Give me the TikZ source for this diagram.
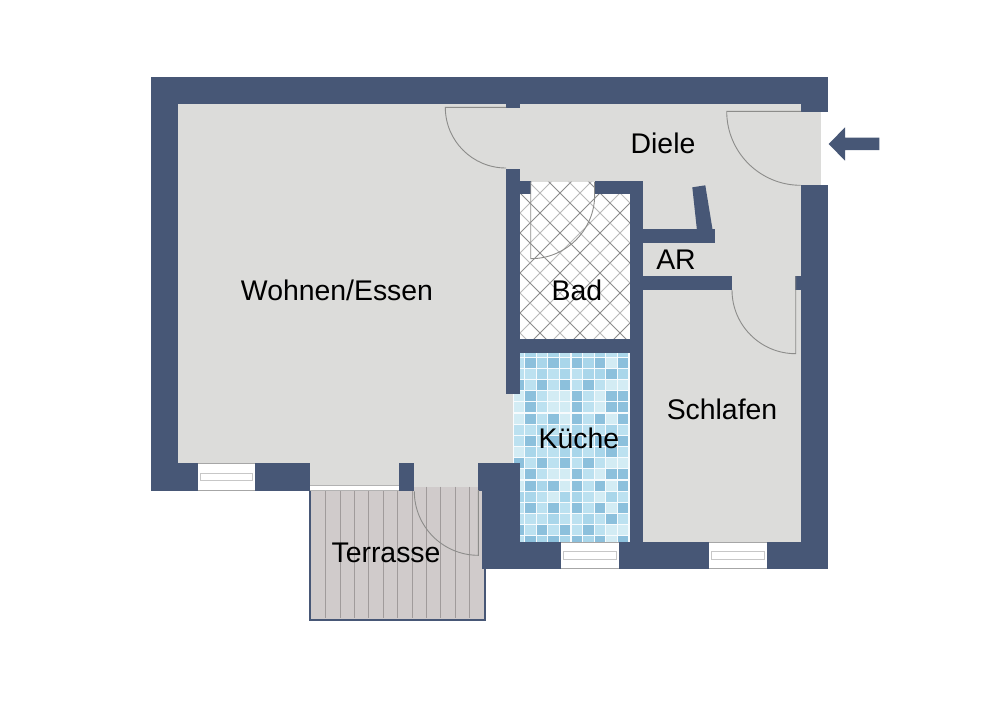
\documentclass[tikz,border=0pt]{standalone}
\usepackage{fontspec}
\setmainfont{Liberation Sans}
\definecolor{wallblue}{HTML}{475776}
\definecolor{floorgrey}{HTML}{DCDCDA}
\definecolor{doorgrey}{HTML}{8C8C8A}
\definecolor{deckgrey}{HTML}{D0CBCB}
\definecolor{plankgrey}{HTML}{A09B9B}
\definecolor{tilea}{HTML}{8CC0DC}
\definecolor{tileb}{HTML}{A9D6EA}
\definecolor{tilec}{HTML}{BCE1F0}
\definecolor{tiled}{HTML}{D3ECF4}
\tikzset{
    wall/.style={fill=wallblue},
    floorarea/.style={fill=floorgrey},
    doorleaf/.style={draw=doorgrey, line width=0.9pt},
    roomlabel/.style={inner sep=0pt, font=\fontsize{28.4}{30}\selectfont}
}
\begin{document}
\begin{tikzpicture}[x=1pt, y=-1pt]
    \useasboundingbox (0,0) rectangle (1000,707);
    % floors
    \fill [floorarea] (178,104) rectangle (801,185);
    \fill [floorarea] (801,111.7) rectangle (820.7,184.7);
    \fill [floorarea] (178,104) rectangle (513,463.5);
    \fill [floorarea] (643,181) rectangle (801,542);
    \fill [floorarea] (309.7,463) rectangle (478,487);
    % terrace
    \fill [deckgrey] (309.5,486.7) rectangle (484.5,619.5);
    \foreach \px in {325.7,340,354.3,368.7,383.3,397.7,412,426.3,440.7,455,469.3}
        \draw [plankgrey, line width=0.9pt] (\px,486.7) -- (\px,618);
    \draw [wallblue, line width=2pt] (309.5,490) -- (309.5,619.5) -- (484.5,619.5) -- (484.5,569);
    \fill [white] (309.7,485.7) rectangle (399,490.7);
    \draw [black!30, line width=0.6pt] (309.7,485.7) -- (399,485.7);
    \draw [black!30, line width=0.6pt] (309.7,490.7) -- (399,490.7);
    % bath
    \fill [white] (520,194) rectangle (630,339);
    \fill [white] (530.7,181.5) rectangle (594.7,194);
    \begin{scope}
        \clip (520,194) -- (530.7,194) -- (530.7,181.5) -- (594.7,181.5) -- (594.7,194) -- (630,194) -- (630,339) -- (520,339) -- cycle;
        \foreach \hc in {713,753,...,993} {
            \draw [black!45, line width=0.8pt] (500,\hc-500) -- (650,\hc-650);
            \draw [black!28, line width=0.8pt] (500,\hc+20-500) -- (650,\hc+20-650);
        }
        \foreach \hd in {167,207,...,487} {
            \draw [black!45, line width=0.8pt] (500,500-\hd) -- (650,650-\hd);
            \draw [black!28, line width=0.8pt] (500,500-\hd-20) -- (650,650-\hd-20);
        }
    \end{scope}
    % kitchen
    \fill [white!88!tilec] (513,353) rectangle (629.5,542);
    \begin{scope}
        \clip (513,353) rectangle (629.5,542);
        \foreach \tiles [count=\r from 0] in {
            {c,b,c,b,c,b,c,b,c,b},
            {c,a,b,a,b,a,b,a,d,a},
            {c,c,b,c,b,c,b,b,a,b},
            {a,c,a,c,a,c,a,c,d,d},
            {d,a,c,d,d,a,c,d,a,a},
            {d,a,c,d,d,a,c,d,a,a},
            {d,a,c,a,d,a,c,a,d,a},
            {c,c,b,c,c,b,c,c,b,c},
            {c,a,c,a,c,a,c,a,b,a},
            {d,b,c,c,b,b,c,b,a,c},
            {a,c,a,c,a,c,a,c,d,d},
            {d,a,c,d,d,a,c,d,a,a},
            {d,a,b,a,d,a,c,a,d,a},
            {b,b,c,d,b,b,c,d,b,c},
            {c,a,c,a,c,a,c,a,d,a},
            {c,c,c,b,c,c,b,c,a,c},
            {a,c,a,c,a,c,a,c,d,d},
            {c,a,b,a,b,a,b,a,d,a}}
            \foreach \t [count=\c from 0] in \tiles
                \fill [tile\t] (513.5+\c*11.6,346.7+\r*11.15) rectangle (523.9+\c*11.6,356.7+\r*11.15);
    \end{scope}
    % walls
    \fill [wall] (151,77) rectangle (828,104);
    \fill [wall] (800.7,104) rectangle (828,111.7);
    \fill [wall] (151,77) rectangle (178,490.7);
    \fill [wall] (151,463.3) rectangle (309.7,490.7);
    \fill [wall] (399,463.3) rectangle (414.3,490.7);
    \fill [wall] (478,463.3) rectangle (520,490.7);
    \fill [wall] (482.3,490.7) rectangle (520,568.7);
    \fill [wall] (482.3,542) rectangle (828,568.7);
    \fill [wall] (506,104) rectangle (520,108);
    \fill [wall] (506,168.7) rectangle (520,394);
    \fill [wall] (520,181) rectangle (530.7,194);
    \fill [wall] (594.7,181) rectangle (643.3,194);
    \fill [wall] (629.5,181) rectangle (643.3,542);
    \fill [wall] (520,339) rectangle (630,352.7);
    \fill [wall] (643,229) rectangle (714.7,242.7);
    \fill [wall] (692.3,187.3) -- (705.3,185.3) -- (714.7,242.7) -- (698.3,242.7) -- cycle;
    \fill [wall] (643,275.7) rectangle (732,289.7);
    \fill [wall] (795,275.7) rectangle (801,289.7);
    \fill [wall] (801,184.7) rectangle (828,568.7);
    % windows
    \foreach \wx/\wy in {197.7/463.3, 561/542, 709.3/542} {
        \fill [white] (\wx,\wy) rectangle (\wx+57.6,\wy+27);
        \draw [black!35, line width=0.8pt] (\wx,\wy+0.3) -- (\wx+57.6,\wy+0.3);
        \draw [black!35, line width=0.8pt] (\wx,\wy+26.7) -- (\wx+57.6,\wy+26.7);
        \draw [black!22, line width=0.9pt] (\wx+2.5,\wy+9.7) rectangle (\wx+55,\wy+17.4);
    }
    % doors
    \draw [doorleaf] (506,107.3) -- (445.3,107.3) arc (180:90:60.7);
    \draw [doorleaf] (801,111.3) -- (726.7,111.3) arc (180:90:74);
    \draw [doorleaf] (530.7,181.5) -- (530.7,258.7) arc (90:0:64);
    \draw [doorleaf] (594.7,194.7) -- (594.7,181.5);
    \draw [doorleaf] (795.7,276) -- (795.7,353.7) arc (90:180:63.7);
    \draw [doorleaf] (478.3,490) -- (478.3,555.3) arc (90:180:64);
    % arrow
    \fill [wall] (828.7,144) -- (845,127.3) -- (845,137.7) -- (879.3,137.7) -- (879.3,150) -- (845,150) -- (845,160.7) -- cycle;
    % labels
    \node [roomlabel] (wohnen) at (337,290) {Wohnen/Essen};
    \node [roomlabel] (diele) at (663,143) {Diele};
    \node [roomlabel] (bad) at (577,290) {Bad};
    \node [roomlabel] (ar) at (676,260) {AR};
    \node [roomlabel] (schlafen) at (722,409) {Schlafen};
    \node [roomlabel] (kueche) at (579,438) {Küche};
    \node [roomlabel] (terrasse) at (386,553) {Terrasse};
\end{tikzpicture}
\end{document}
